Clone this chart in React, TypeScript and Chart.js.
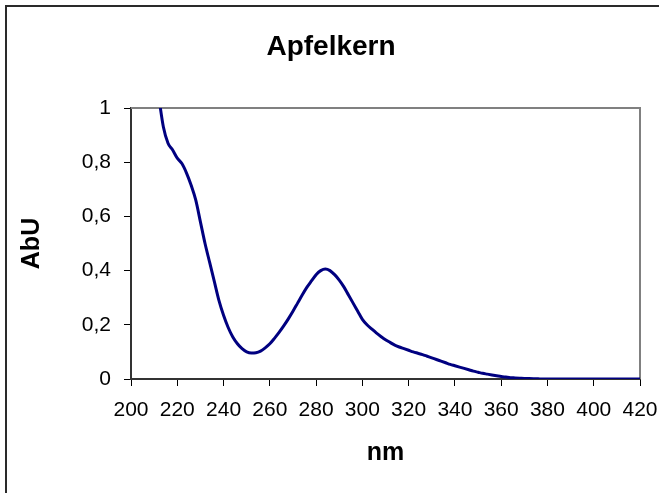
import React, { useEffect, useRef } from "react";
import { Chart, registerables } from "chart.js";

Chart.register(...registerables);

const chartTitle = "Apfelkern";
const xAxisTitle = "nm";
const yAxisTitle = "AbU";

const wavelengths = [
  212, 214, 216, 218, 220, 222, 224, 226, 228, 230, 232, 234, 236, 238, 240, 242, 244, 246, 248, 250,
  252, 254, 256, 258, 260, 262, 264, 266, 268, 270, 272, 274, 276, 278, 280, 282, 284, 286, 288, 290,
  292, 294, 296, 298, 300, 302, 304, 306, 308, 310, 312, 314, 316, 318, 320, 322, 324, 326, 328, 330,
  332, 334, 336, 338, 340, 342, 344, 346, 348, 350, 352, 354, 356, 358, 360, 362, 364, 366, 368, 370,
  372, 374, 376, 378, 380, 385, 390, 395, 400, 405, 410, 415, 420,
];

const absorbance = [
  1.04, 0.93, 0.87, 0.845, 0.815, 0.795, 0.76, 0.715, 0.66, 0.58, 0.5, 0.43, 0.36, 0.29, 0.235, 0.19, 0.155, 0.13, 0.112, 0.1,
  0.096, 0.097, 0.103, 0.115, 0.13, 0.15, 0.172, 0.196, 0.222, 0.25, 0.28, 0.31, 0.338, 0.362, 0.385, 0.4, 0.406, 0.4, 0.385, 0.365,
  0.34, 0.31, 0.28, 0.25, 0.22, 0.2, 0.185, 0.17, 0.157, 0.145, 0.135, 0.125, 0.118, 0.112, 0.106, 0.1, 0.095, 0.09, 0.084, 0.078,
  0.072, 0.066, 0.06, 0.054, 0.049, 0.044, 0.039, 0.034, 0.029, 0.025, 0.021, 0.018, 0.015, 0.012, 0.009, 0.007, 0.005, 0.004, 0.003, 0.002,
  0.0015, 0.001, 0.0005, 0, 0, 0, 0, 0, 0, 0, 0, 0, 0,
];

const xMin = 200;
const xMax = 420;
const xStep = 20;
const yMin = 0;
const yMax = 1;
const yStep = 0.2;

const FONT = "'Liberation Sans', Arial, sans-serif";

const framePlugin = {
  id: "frame",
  beforeDraw(chart: any) {
    const ctx = chart.ctx;
    ctx.save();
    ctx.fillStyle = "#ffffff";
    ctx.fillRect(0, 0, chart.width, chart.height);
    ctx.strokeStyle = "#2a2a2a";
    ctx.lineWidth = 2;
    ctx.beginPath();
    ctx.moveTo(6, chart.height);
    ctx.lineTo(6, 6);
    ctx.lineTo(chart.width, 6);
    ctx.stroke();
    ctx.restore();
  },
  beforeDatasetsDraw(chart: any) {
    const { ctx, chartArea } = chart;
    ctx.save();
    ctx.strokeStyle = "#808080";
    ctx.lineWidth = 2;
    ctx.beginPath();
    ctx.moveTo(chartArea.left, chartArea.top);
    ctx.lineTo(chartArea.right, chartArea.top);
    ctx.lineTo(chartArea.right, chartArea.bottom);
    ctx.stroke();
    ctx.restore();
  },
  afterDraw(chart: any) {
    const ctx = chart.ctx;
    ctx.save();
    ctx.fillStyle = "#000";
    ctx.font = `bold 28px ${FONT}`;
    ctx.textAlign = "center";
    ctx.textBaseline = "middle";
    ctx.fillText(chartTitle, 331, 47);
    ctx.restore();
  },
};

export default function App() {
  const ref = useRef<HTMLCanvasElement | null>(null);

  useEffect(() => {
    if (!ref.current) return;
    const data = wavelengths.map((w, i) => ({ x: w, y: absorbance[i] }));
    const chart = new Chart(ref.current, {
      type: "line",
      data: {
        datasets: [
          {
            data,
            borderColor: "#000080",
            borderWidth: 3,
            pointRadius: 0,
            fill: false,
            tension: 0.4,
            cubicInterpolationMode: "monotone",
          },
        ],
      },
      options: {
        animation: false,
        responsive: false,
        maintainAspectRatio: false,
        layout: { padding: { left: 0, right: 19, top: 108, bottom: 0 } },
        plugins: {
          legend: { display: false },
          tooltip: { enabled: false },
          title: { display: false },
        },
        scales: {
          x: {
            type: "linear",
            min: xMin,
            max: xMax,
            afterFit(scale: any) {
              scale.height = 114;
              scale.paddingLeft = 0;
              scale.paddingRight = 0;
            },
            ticks: {
              stepSize: xStep,
              color: "#000",
              font: { family: FONT, size: 21 },
              padding: 12,
              maxRotation: 0,
              autoSkip: false,
            },
            grid: {
              display: true,
              drawOnChartArea: false,
              drawTicks: true,
              tickLength: 7,
              color: "#000",
              lineWidth: 1,
            },
            border: { display: true, color: "#333", width: 2 },
            title: {
              display: true,
              text: xAxisTitle,
              color: "#000",
              font: { family: FONT, size: 25, weight: "bold" },
              padding: { top: 0, bottom: 25 },
            },
          },
          y: {
            type: "linear",
            min: yMin,
            max: yMax,
            afterFit(scale: any) {
              scale.width = 131;
              scale.paddingTop = 0;
              scale.paddingBottom = 0;
            },
            ticks: {
              stepSize: yStep,
              color: "#000",
              font: { family: FONT, size: 21 },
              padding: 13,
              callback(value: any) {
                const v = Math.round(Number(value) * 10) / 10;
                return Number.isInteger(v) ? String(v) : v.toFixed(1).replace(".", ",");
              },
            },
            grid: {
              display: true,
              drawOnChartArea: false,
              drawTicks: true,
              tickLength: 7,
              color: "#000",
              lineWidth: 1,
            },
            border: { display: true, color: "#333", width: 2 },
            title: {
              display: true,
              text: yAxisTitle,
              color: "#000",
              font: { family: FONT, size: 25, weight: "bold" },
              padding: { top: 17, bottom: 0 },
            },
          },
        },
      },
      plugins: [framePlugin],
    });
    return () => chart.destroy();
  }, []);

  return (
    <div style={{ position: "absolute", left: 0, top: 0, width: 659, height: 493, background: "#fff" }}>
      <canvas ref={ref} width={659} height={493} style={{ display: "block", width: 659, height: 493 }} />
    </div>
  );
}
